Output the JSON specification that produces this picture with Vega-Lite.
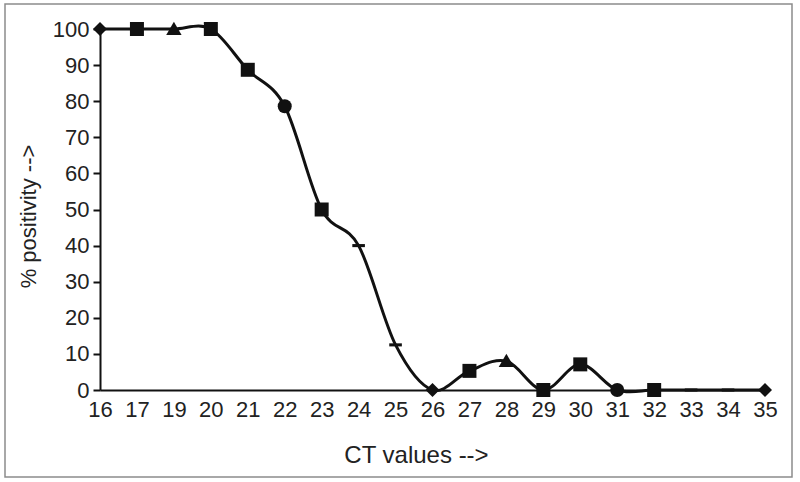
{
  "$schema": "https://vega.github.io/schema/vega-lite/v6.json",
  "width": 787,
  "height": 473,
  "autosize": "none",
  "padding": {"left": 5, "top": 4, "right": 8, "bottom": 5},
  "background": "white",
  "config": {
    "view": {"stroke": "#8c8c8c", "strokeWidth": 1.5},
    "axis": {
      "grid": false,
      "domainColor": "#111",
      "domainWidth": 2,
      "tickColor": "#111",
      "tickWidth": 2,
      "labelFont": "Liberation Sans",
      "labelColor": "#222",
      "titleFont": "Liberation Sans",
      "titleColor": "#222",
      "titleFontWeight": "normal"
    }
  },
  "data": {
    "values": [
      {"ct": "16", "positivity": 100},
      {"ct": "17", "positivity": 100},
      {"ct": "19", "positivity": 100},
      {"ct": "20", "positivity": 100},
      {"ct": "21", "positivity": 88.7},
      {"ct": "22", "positivity": 78.6},
      {"ct": "23", "positivity": 50},
      {"ct": "24", "positivity": 40},
      {"ct": "25", "positivity": 12.5},
      {"ct": "26", "positivity": 0},
      {"ct": "27", "positivity": 5.3},
      {"ct": "28", "positivity": 8},
      {"ct": "29", "positivity": 0},
      {"ct": "30", "positivity": 7.1},
      {"ct": "31", "positivity": 0},
      {"ct": "32", "positivity": 0},
      {"ct": "33", "positivity": 0},
      {"ct": "34", "positivity": 0},
      {"ct": "35", "positivity": 0}
    ]
  },
  "encoding": {
    "x": {
      "field": "ct",
      "type": "ordinal",
      "sort": null,
      "scale": {"type": "point", "range": [95, 760], "padding": 0},
      "axis": {
        "orient": "bottom",
        "offset": -87,
        "ticks": false,
        "labelAngle": 0,
        "labelFontSize": 22,
        "labelPadding": 9,
        "title": "CT values -->",
        "titleFontSize": 24,
        "titleX": 411,
        "titleY": 65,
        "titleAlign": "center",
        "titleBaseline": "middle"
      }
    },
    "y": {
      "field": "positivity",
      "type": "quantitative",
      "scale": {"domain": [0, 100], "range": [386, 25], "nice": false},
      "axis": {
        "orient": "left",
        "offset": -95,
        "values": [0, 10, 20, 30, 40, 50, 60, 70, 80, 90, 100],
        "tickSize": 7,
        "labelFontSize": 22,
        "labelPadding": 4,
        "title": "% positivity -->",
        "titleFontSize": 22,
        "titleAngle": -90,
        "titleX": -72,
        "titleY": 212,
        "titleAlign": "center",
        "titleBaseline": "middle"
      }
    }
  },
  "layer": [
    {
      "mark": {"type": "line", "interpolate": "cardinal", "color": "#111", "strokeWidth": 3}
    },
    {
      "mark": {"type": "point", "filled": true, "color": "#111", "opacity": 1, "size": 196},
      "encoding": {
        "shape": {
          "field": "ct",
          "type": "nominal",
          "legend": null,
          "scale": {
            "domain": ["16", "17", "19", "20", "21", "22", "23", "24", "25", "26", "27", "28", "29", "30", "31", "32", "33", "34", "35"],
            "range": [
              "M0,-1L1,0L0,1L-1,0Z",
              "M-1,-1H1V1H-1Z",
              "M0,-1.05L1.1,0.85H-1.1Z",
              "M-1,-1H1V1H-1Z",
              "M-1,-1H1V1H-1Z",
              "circle",
              "M-1,-1H1V1H-1Z",
              "M-0.9,-0.22H0.9V0.22H-0.9Z",
              "M-0.9,-0.22H0.9V0.22H-0.9Z",
              "M0,-1L1,0L0,1L-1,0Z",
              "M-1,-1H1V1H-1Z",
              "M0,-1.05L1.1,0.85H-1.1Z",
              "M-1,-1H1V1H-1Z",
              "M-1,-1H1V1H-1Z",
              "circle",
              "M-1,-1H1V1H-1Z",
              "M-0.9,-0.22H0.9V0.22H-0.9Z",
              "M-0.9,-0.22H0.9V0.22H-0.9Z",
              "M0,-1L1,0L0,1L-1,0Z"
            ]
          }
        }
      }
    },
    {
      "data": {"values": [{"note": "Ct Value on RT PCR"}]},
      "mark": {"type": "rect", "fill": "white", "stroke": "#333", "strokeWidth": 1.5, "xOffset": 14.5, "x2Offset": -6},
      "encoding": {
        "x": {"datum": "24"},
        "x2": {"datum": "30"},
        "y": {"datum": 50.4},
        "y2": {"datum": 39.9}
      }
    },
    {
      "data": {"values": [{"note": "Ct Value on RT PCR"}]},
      "mark": {"type": "text", "align": "left", "baseline": "middle", "dx": 30, "font": "Liberation Sans", "fontWeight": "bold", "fontSize": 16, "color": "#111"},
      "encoding": {
        "x": {"datum": "24"},
        "y": {"datum": 45.2},
        "text": {"field": "note"}
      }
    },
    {
      "data": {"values": [{"note": "arrow"}]},
      "mark": {"type": "rule", "color": "#111", "strokeWidth": 4, "xOffset": 12.5},
      "encoding": {
        "x": {"datum": "25"},
        "y": {"datum": 36.8},
        "y2": {"datum": 21.5}
      }
    },
    {
      "data": {"values": [{"note": "arrow"}]},
      "mark": {"type": "point", "shape": "M-1,-1.8L0,0L1,-1.8", "filled": false, "color": "#111", "opacity": 1, "strokeWidth": 4, "size": 529, "xOffset": 12.5},
      "encoding": {
        "x": {"datum": "25"},
        "y": {"datum": 21}
      }
    }
  ]
}
